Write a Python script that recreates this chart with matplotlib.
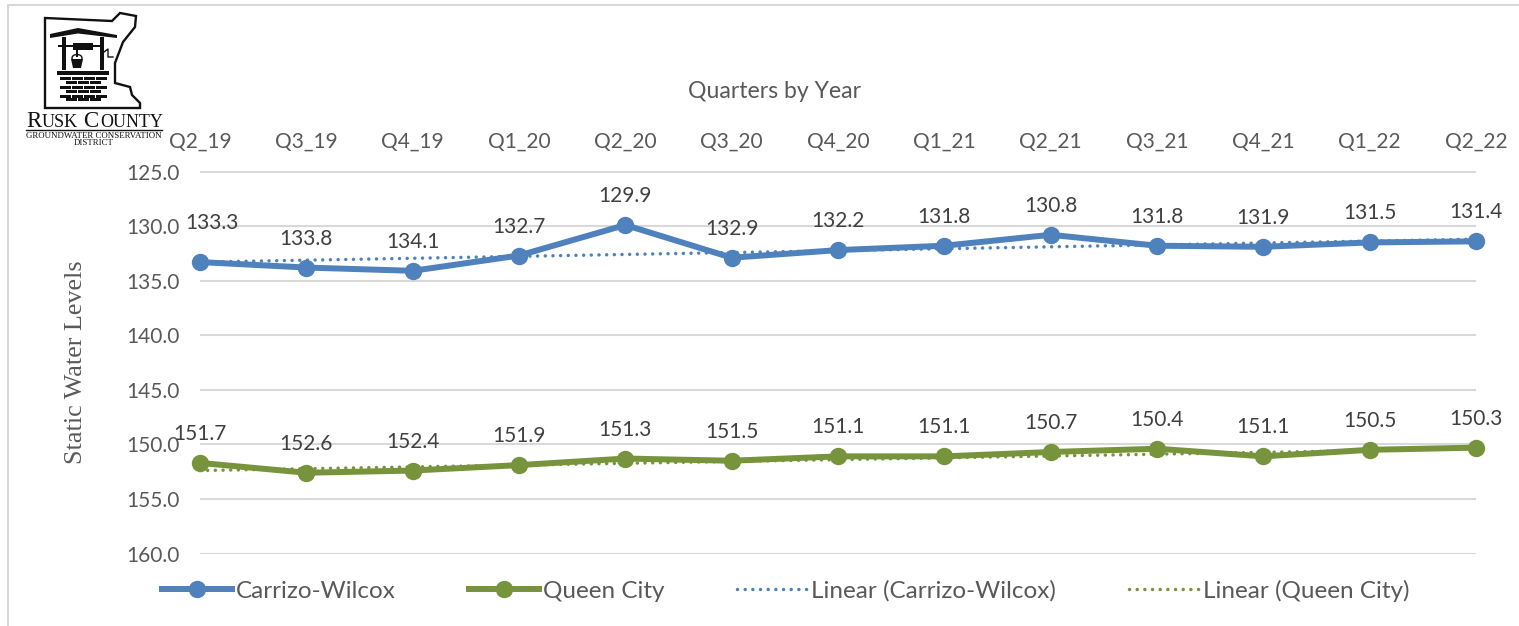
import matplotlib
matplotlib.use("Agg")
import matplotlib.pyplot as plt
from matplotlib.lines import Line2D
from matplotlib.patches import Polygon, Rectangle, Ellipse

quarters = ["Q2_19", "Q3_19", "Q4_19", "Q1_20", "Q2_20", "Q3_20", "Q4_20",
            "Q1_21", "Q2_21", "Q3_21", "Q4_21", "Q1_22", "Q2_22"]
carrizo = [133.3, 133.8, 134.1, 132.7, 129.9, 132.9, 132.2, 131.8, 130.8, 131.8, 131.9, 131.5, 131.4]
queen = [151.7, 152.6, 152.4, 151.9, 151.3, 151.5, 151.1, 151.1, 150.7, 150.4, 151.1, 150.5, 150.3]
trend_carrizo = [133.3, 131.2]
trend_queen = [152.4, 150.4]
y_ticks = [125, 130, 135, 140, 145, 150, 155, 160]

BLUE = "#4F81BD"
GREEN = "#77933C"
GRID = "#D9D9D9"
TXT = "#595959"
LBL = "#404040"
SANS = "Lato"
SERIF = "Liberation Serif"
W, H = 1519, 626

fig = plt.figure(figsize=(W / 100, H / 100), dpi=100, facecolor="white")
ax = fig.add_axes([200 / W, 1 - 553.5 / H, (1476 - 200) / W, (553.5 - 171.5) / H])
x = list(range(len(quarters)))
ax.set_xlim(0, len(quarters) - 1)
ax.set_ylim(160, 125)
ax.set_yticks(y_ticks)
ax.set_yticklabels([f"{v:.1f}" for v in y_ticks], fontsize=15, color=TXT, family=SANS)
ax.xaxis.tick_top()
ax.set_xticks(x)
ax.set_xticklabels(quarters, fontsize=15, color=TXT, family=SANS)
ax.tick_params(length=0, axis="y", pad=14.5)
ax.tick_params(length=0, axis="x", pad=14.5)
for s in ax.spines.values():
    s.set_visible(False)
ax.grid(axis="y", color=GRID, lw=1.5)
ax.set_axisbelow(True)

dots = (0, (0.01, 2.2))
t1, = ax.plot([x[0], x[-1]], trend_carrizo, color=BLUE, lw=2.5, ls=dots, dash_capstyle="round", clip_on=False, zorder=2)
t2, = ax.plot([x[0], x[-1]], trend_queen, color=GREEN, lw=2.5, ls=dots, dash_capstyle="round", clip_on=False, zorder=2)
l1, = ax.plot(x, carrizo, color=BLUE, lw=4.3, marker="o", ms=11.5, clip_on=False, zorder=3, solid_joinstyle="round")
l2, = ax.plot(x, queen, color=GREEN, lw=4.3, marker="o", ms=11.5, clip_on=False, zorder=3, solid_joinstyle="round")

px = 0.72
for i, v in enumerate(carrizo):
    dx, dy = (12, 39) if i == 0 else (0, 29)
    ax.annotate(f"{v:.1f}", (i, v), xytext=(dx * px, dy * px), textcoords="offset points",
                ha="center", va="center", fontsize=15, color=LBL, family=SANS, annotation_clip=False)
for i, v in enumerate(queen):
    ax.annotate(f"{v:.1f}", (i, v), xytext=(0, 29 * px), textcoords="offset points",
                ha="center", va="center", fontsize=15, color=LBL, family=SANS, annotation_clip=False)

fig.text(775 / W, 1 - 92 / H, "Quarters by Year", ha="center", va="center", fontsize=16.6, color=TXT, family=SANS)
fig.text(76 / W, 1 - 362 / H, "Static Water Levels", rotation=90, ha="center", va="center",
         fontsize=18.8, color=TXT, family=SERIF)

leg = fig.legend([l1, l2, t1, t2],
                 ["Carrizo-Wilcox", "Queen City", "Linear (Carrizo-Wilcox)", "Linear (Queen City)"],
                 loc="center", bbox_to_anchor=(786 / W, 1 - 590.5 / H), ncol=4, frameon=False,
                 handlelength=2.88, handletextpad=0.16, columnspacing=3.0,
                 prop={"family": SANS, "size": 17.5})
for t in leg.get_texts():
    t.set_color(TXT)

# overlay in pixel coordinates: page frame and logo
ov = fig.add_axes([0, 0, 1, 1], zorder=-1)
ov.set_xlim(0, W)
ov.set_ylim(H, 0)
ov.axis("off")
ov.plot([8, 8, W], [H, 5, 5], color="#D6D6D6", lw=1.4)

logo = fig.add_axes([0, 0, 1, 1], zorder=5)
logo.set_xlim(0, W)
logo.set_ylim(H, 0)
logo.axis("off")
logo.patch.set_alpha(0)
K = "#111111"
outline = [(45, 18), (112, 21), (120, 13), (136, 16), (135, 27), (123, 42), (115, 63), (115, 83),
           (130, 87), (132, 95), (140, 103), (140, 108), (45, 108)]
logo.add_patch(Polygon(outline, closed=True, fc="white", ec=K, lw=1.7))
logo.add_patch(Polygon([(50, 34), (78, 28), (117, 35), (117, 38), (78, 33.5), (50, 38)], fc=K, ec="none"))
logo.add_patch(Rectangle((62, 37), 4, 33, fc=K))
logo.add_patch(Rectangle((100, 37), 4, 33, fc=K))
logo.add_patch(Rectangle((58, 44.5), 46, 2, fc=K))
logo.add_patch(Rectangle((73, 43), 20, 7, fc=K))
logo.add_patch(Rectangle((76, 50), 2, 7, fc=K))
logo.add_patch(Polygon([(71, 59), (83, 59), (81, 68), (73, 68)], fc=K))
logo.add_patch(Ellipse((77, 58), 10, 7, fc="none", ec=K, lw=1))
logo.plot([104, 108, 108, 113], [52, 49, 57, 57], color=K, lw=1)
logo.add_patch(Rectangle((57, 70.5), 52, 4.5, fc=K))
for r, yy in enumerate([76.5, 81, 85.5, 90, 94.5, 98]):
    off = 0 if r % 2 == 0 else 6
    for xx in range(60 + off, 102, 12):
        logo.add_patch(Rectangle((xx, yy), 10.5, 3, fc=K))
logo.text(26, 127, "R", family=SERIF, fontsize=16.5, color=K, ha="left", va="baseline")
logo.text(42, 127, "USK", family=SERIF, fontsize=13, color=K, ha="left", va="baseline")
logo.text(83, 127, "C", family=SERIF, fontsize=16.5, color=K, ha="left", va="baseline")
logo.text(100, 127, "OUNTY", family=SERIF, fontsize=13, color=K, ha="left", va="baseline")
logo.plot([26, 162], [129.5, 129.5], color=K, lw=1)
logo.text(93.5, 135.5, "GROUNDWATER CONSERVATION", family=SERIF, fontsize=6.4, color=K, ha="center", va="center")
logo.text(93.5, 143, "DISTRICT", family=SERIF, fontsize=6.4, color=K, ha="center", va="center")

fig.savefig("out.png", dpi=100, facecolor="white")
